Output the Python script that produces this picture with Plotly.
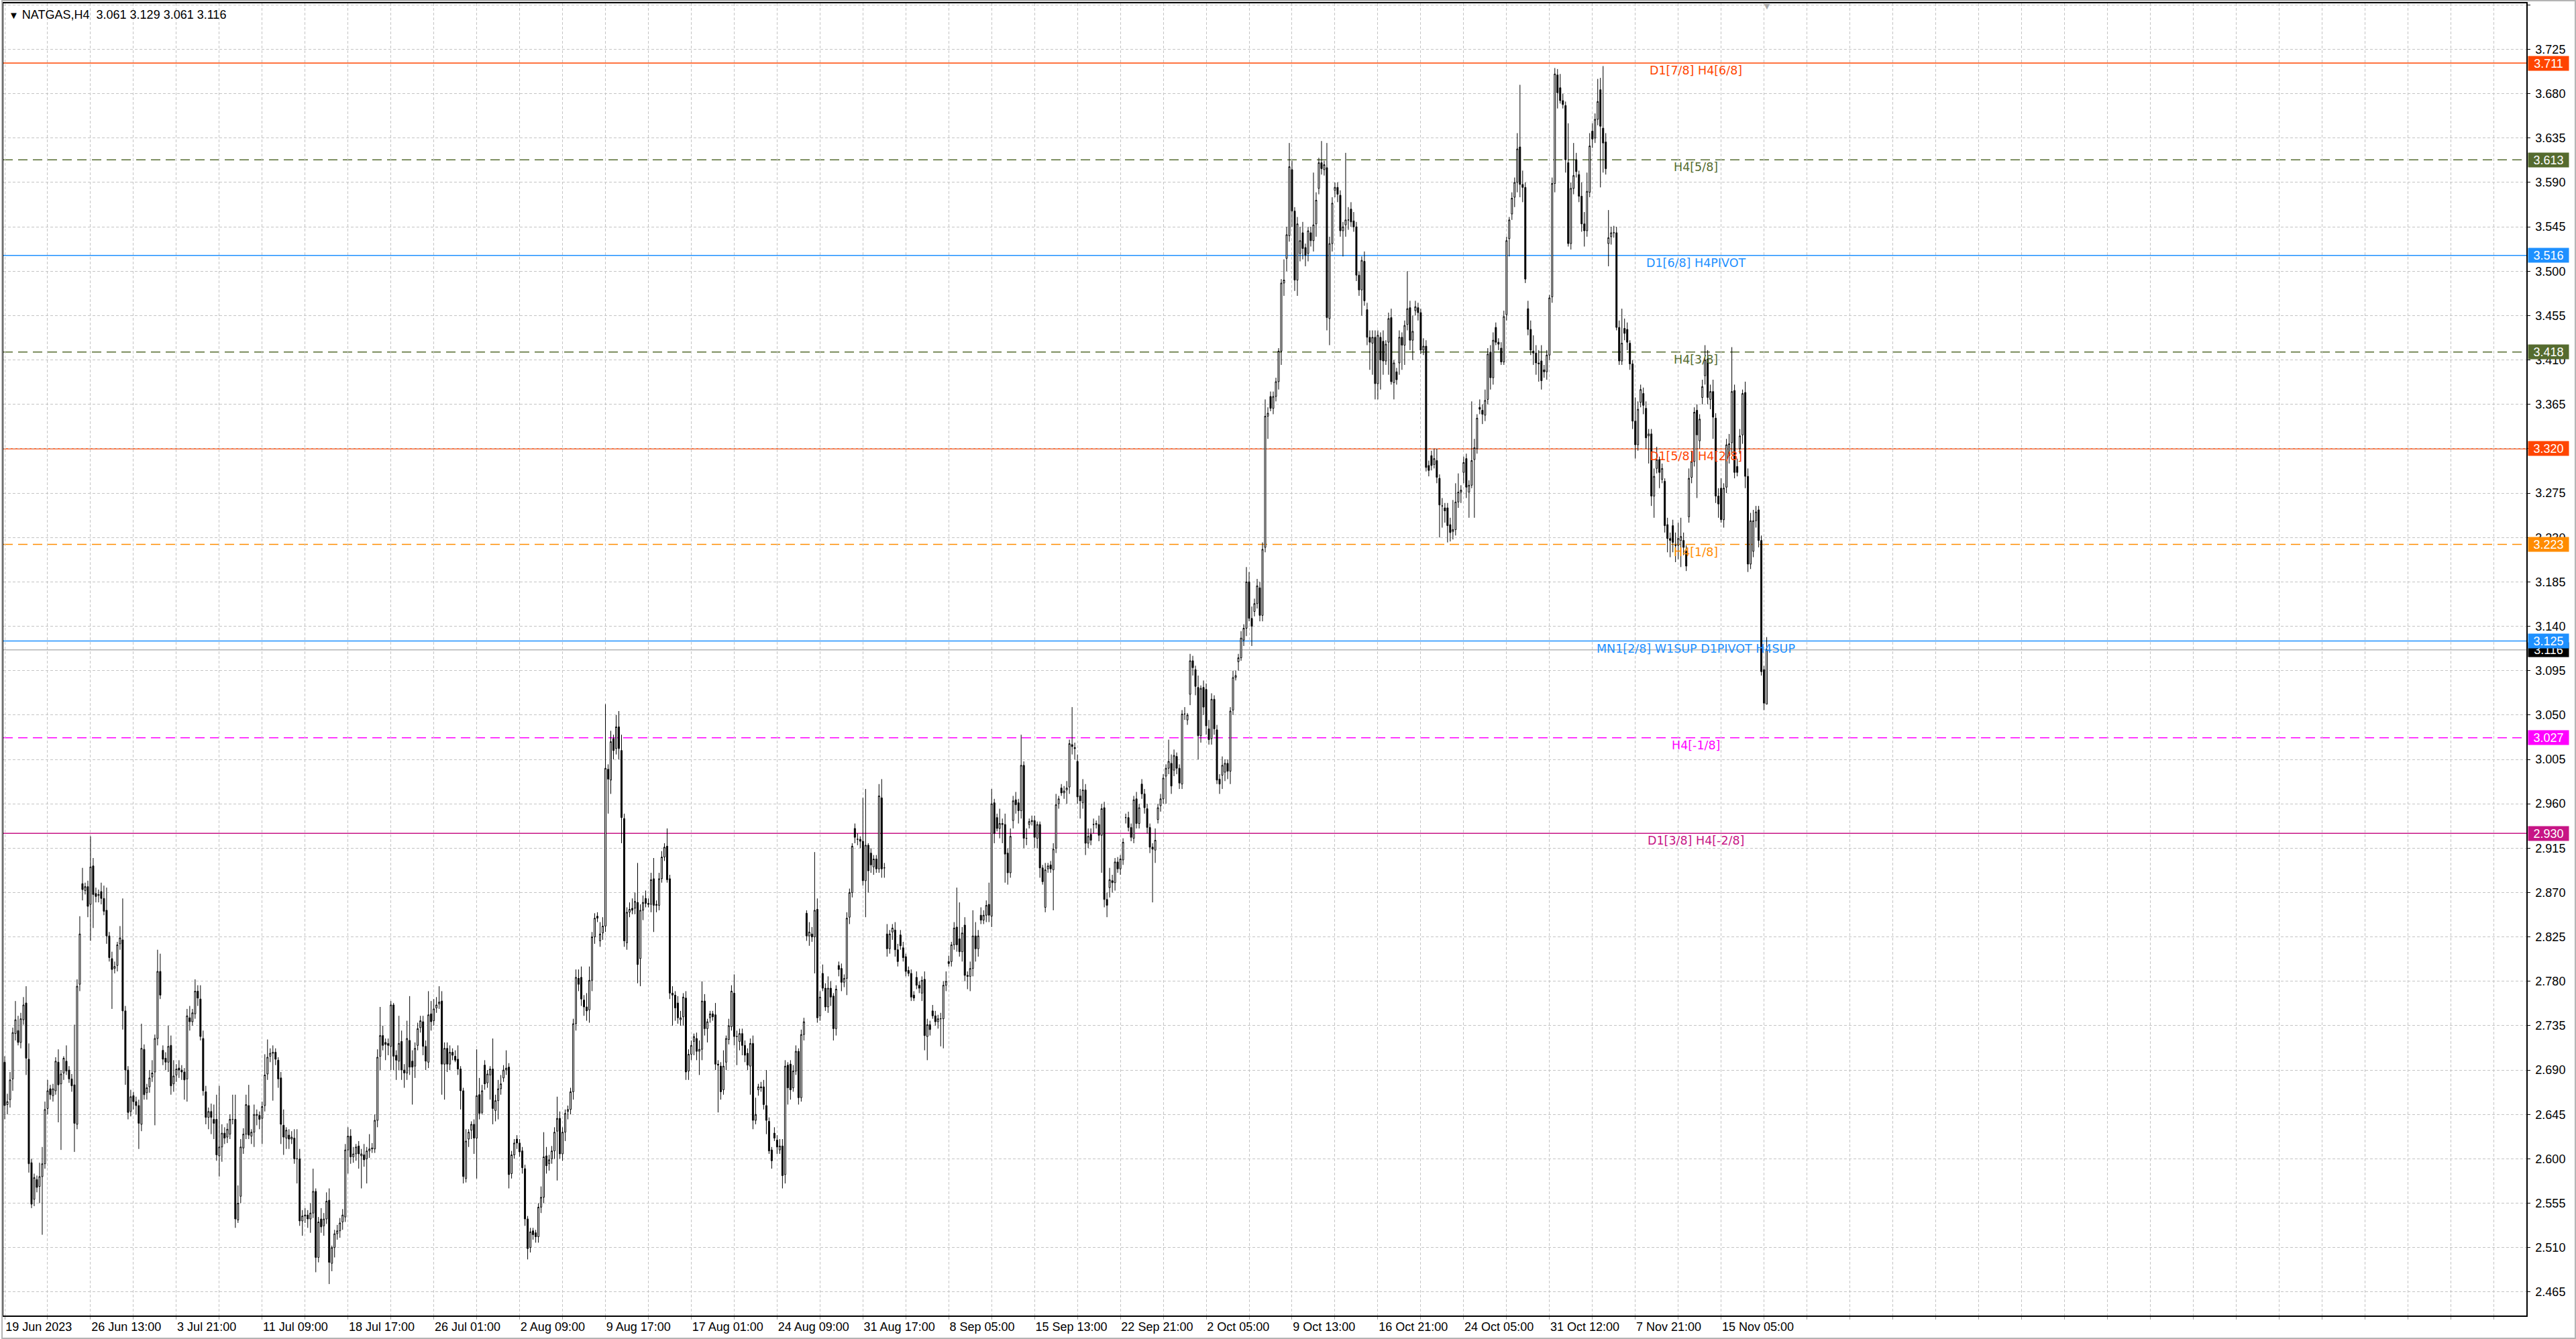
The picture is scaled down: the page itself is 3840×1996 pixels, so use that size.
import plotly.graph_objects as go

symbol_title = "NATGAS,H4"

# ---- H4 bars, prices in thousandths ----
opens = [
2698,2655,2660,2681,2727,2730,2718,2741,2758,2701,
2596,2559,2579,2572,2582,2595,2651,2671,2664,2669,
2698,2676,2687,2699,2690,2681,2675,2635,2777,2879,
2872,2876,2858,2897,2869,2867,2871,2864,2852,2826,
2803,2793,2796,2818,2822,2750,2690,2648,2664,2658,
2654,2635,2711,2667,2673,2683,2688,2722,2790,2710,
2702,2698,2715,2676,2685,2692,2690,2688,2681,2743,
2739,2747,2770,2762,2722,2668,2642,2648,2640,2640,
2603,2612,2626,2622,2625,2640,2640,2538,2562,2611,
2625,2654,2623,2627,2644,2644,2641,2654,2686,2704,
2707,2708,2700,2682,2634,2621,2624,2620,2621,2600,
2600,2537,2542,2543,2539,2545,2567,2500,2539,2532,
2539,2558,2494,2510,2524,2527,2536,2541,2609,2623,
2602,2605,2613,2603,2604,2600,2608,2610,2610,2639,
2704,2725,2718,2717,2714,2756,2705,2699,2719,2690,
2687,2720,2699,2694,2715,2733,2739,2714,2698,2747,
2740,2753,2757,2760,2696,2712,2696,2708,2704,2701,
2691,2669,2580,2620,2629,2635,2621,2665,2647,2695,
2677,2685,2691,2649,2659,2671,2682,2690,2693,2585,
2604,2620,2616,2608,2590,2539,2510,2527,2525,2521,
2551,2561,2603,2595,2600,2608,2628,2641,2605,2627,
2648,2650,2668,2737,2783,2784,2761,2754,2751,2781,
2825,2846,2821,2829,2836,2995,2984,3026,3016,3038,
3014,2945,2819,2850,2854,2854,2860,2803,2852,2864,
2859,2858,2884,2857,2857,2884,2906,2917,2884,2768,
2766,2758,2741,2744,2763,2689,2706,2719,2722,2709,
2711,2760,2732,2743,2747,2746,2696,2694,2670,2698,
2721,2734,2768,2724,2719,2727,2715,2707,2694,2717,
2639,2670,2673,2673,2654,2638,2609,2626,2619,2609,
2613,2584,2695,2696,2672,2689,2709,2662,2726,2849,
2826,2828,2825,2853,2745,2788,2773,2754,2773,2765,
2732,2796,2793,2779,2783,2845,2870,2935,2924,2924,
2922,2882,2918,2910,2896,2904,2894,2966,2895,2828,
2813,2830,2832,2812,2827,2814,2805,2791,2788,2766,
2784,2776,2768,2782,2724,2736,2750,2745,2739,2742,
2742,2776,2800,2800,2817,2835,2823,2810,2837,2786,
2785,2793,2826,2813,2847,2842,2847,2858,2846,2961,
2946,2935,2940,2939,2910,2890,2943,2964,2961,2953,
2999,2925,2939,2943,2943,2925,2939,2895,2855,2894,
2898,2893,2915,2960,2976,2971,2974,2977,3020,3017,
3003,2968,2961,2974,2920,2929,2939,2939,2939,2928,
2956,2863,2875,2882,2880,2901,2894,2903,2946,2946,
2936,2925,2965,2940,2980,2970,2955,2936,2916,2913,
2944,2958,2965,2988,2996,3001,2994,3008,2996,2980,
3051,3045,3071,3105,3096,3078,3029,3078,3076,3036,
3026,3066,3035,2985,2989,2992,3001,2993,3055,3088,
3104,3108,3126,3138,3185,3148,3155,3163,3179,3151,
3220,3353,3373,3361,3373,3388,3419,3488,3513,3536,
3603,3561,3491,3518,3539,3524,3518,3539,3531,3548,
3584,3610,3603,3605,3452,3528,3582,3585,3577,3541,
3547,3552,3563,3551,3545,3496,3481,3510,3461,3433,
3427,3433,3386,3433,3429,3409,3428,3453,3387,3398,
3407,3433,3425,3446,3463,3430,3460,3463,3458,3420,
3424,3303,3313,3304,3308,3290,3262,3260,3260,3243,
3236,3238,3266,3276,3296,3310,3276,3283,3309,3320,
3362,3359,3354,3370,3418,3392,3443,3428,3422,3408,
3456,3533,3558,3575,3590,3626,3588,3585,3462,3441,
3419,3417,3407,3409,3400,3398,3415,3474,3589,3699,
3686,3673,3668,3610,3528,3584,3613,3598,3576,3548,
3541,3580,3642,3635,3654,3684,3645,3631,3528,3535,
3539,3539,3443,3409,3442,3441,3427,3406,3348,3324,
3367,3376,3361,3333,3335,3272,3300,3309,3289,3287,
3243,3229,3242,3222,3222,3227,3227,3216,3251,3291,
3307,3359,3328,3372,3394,3411,3370,3378,3351,3272,
3280,3248,3281,3313,3326,3379,3302,3320,3334,3377,
3292,3203,3216,3247,3258,3227,3096,3061]

highs = [
2704,2666,2688,2733,2760,2745,2748,2764,2775,2717,
2600,2585,2583,2596,2612,2658,2680,2675,2676,2703,
2711,2690,2704,2715,2694,2686,2736,2782,2846,2895,
2880,2882,2927,2905,2875,2873,2880,2877,2875,2830,
2810,2800,2820,2836,2864,2755,2694,2670,2668,2663,
2660,2737,2716,2676,2690,2700,2726,2812,2808,2715,
2708,2735,2725,2700,2696,2700,2695,2692,2752,2755,
2752,2782,2776,2776,2730,2674,2652,2656,2655,2665,
2674,2635,2632,2636,2645,2665,2665,2573,2620,2631,
2665,2675,2630,2655,2650,2648,2658,2706,2721,2712,
2715,2712,2703,2688,2650,2632,2630,2628,2630,2630,
2610,2548,2550,2548,2555,2590,2570,2541,2550,2545,
2566,2570,2512,2528,2533,2540,2549,2615,2632,2630,
2612,2615,2618,2610,2615,2612,2625,2616,2645,2711,
2754,2735,2722,2722,2760,2758,2710,2745,2730,2696,
2740,2765,2710,2718,2738,2745,2745,2720,2770,2760,
2762,2764,2775,2770,2718,2718,2715,2712,2710,2715,
2694,2672,2630,2630,2638,2640,2711,2682,2675,2700,
2690,2694,2722,2665,2680,2685,2695,2710,2697,2608,
2620,2624,2620,2612,2594,2542,2530,2530,2528,2555,
2572,2627,2612,2604,2613,2632,2663,2648,2632,2650,
2654,2672,2742,2792,2792,2795,2766,2768,2795,2830,
2849,2850,2840,2845,3061,3000,3034,3030,3050,3054,
3030,2950,2855,2860,2864,2870,2900,2858,2867,2872,
2864,2890,2905,2862,2890,2912,2920,2935,2888,2775,
2770,2765,2750,2768,2770,2711,2720,2727,2728,2720,
2780,2767,2742,2750,2750,2758,2700,2698,2710,2725,
2742,2776,2787,2730,2732,2732,2720,2712,2722,2725,
2662,2676,2678,2680,2690,2642,2612,2632,2624,2620,
2620,2700,2698,2700,2695,2715,2712,2731,2743,2852,
2840,2835,2911,2864,2770,2797,2778,2785,2780,2768,
2776,2800,2798,2787,2850,2874,2920,2940,2930,2927,
2966,2975,2920,2915,2908,2908,2980,2985,2900,2838,
2832,2838,2840,2818,2832,2820,2808,2795,2792,2770,
2790,2780,2785,2790,2742,2740,2756,2750,2746,2748,
2780,2790,2806,2820,2840,2875,2860,2835,2845,2790,
2800,2852,2840,2832,2855,2852,2862,2880,2975,2965,
2950,2955,2945,2950,2915,2935,2968,2972,2965,3030,
3003,2935,2945,2948,2948,2942,2942,2898,2900,2900,
2902,2920,2970,2968,2980,2978,2983,3025,3058,3022,
3010,2975,2985,2980,2935,2935,2945,2943,2948,2960,
2962,2870,2895,2888,2905,2906,2908,2925,2950,2952,
2940,2968,2972,2960,2985,2975,2960,2940,2920,2935,
2960,2970,2990,3000,3025,3010,3015,3012,3000,3055,
3058,3052,3112,3110,3100,3090,3080,3085,3082,3045,
3072,3070,3040,2990,3008,3005,3005,3058,3095,3095,
3112,3135,3142,3200,3195,3160,3168,3188,3185,3225,
3370,3362,3378,3378,3392,3422,3492,3512,3545,3630,
3612,3565,3555,3545,3550,3528,3545,3545,3600,3580,
3615,3632,3612,3630,3535,3575,3590,3590,3582,3550,
3620,3565,3570,3560,3550,3500,3515,3520,3468,3440,
3440,3440,3440,3438,3440,3430,3458,3462,3410,3402,
3440,3438,3450,3500,3470,3455,3470,3468,3462,3432,
3430,3308,3318,3320,3320,3294,3270,3265,3265,3250,
3268,3285,3295,3283,3312,3315,3288,3368,3330,3355,
3370,3365,3380,3422,3425,3438,3448,3432,3428,3460,
3535,3555,3580,3595,3640,3689,3602,3590,3470,3450,
3435,3425,3420,3425,3405,3420,3476,3595,3706,3705,
3700,3680,3672,3650,3590,3630,3620,3602,3590,3560,
3600,3640,3650,3660,3695,3696,3708,3640,3562,3545,
3546,3545,3450,3462,3452,3448,3430,3410,3372,3368,
3385,3382,3368,3340,3340,3300,3322,3312,3305,3290,
3250,3235,3248,3235,3245,3250,3235,3222,3300,3318,
3362,3365,3355,3390,3425,3420,3385,3390,3356,3280,
3290,3285,3330,3335,3423,3385,3310,3340,3380,3388,
3300,3255,3258,3262,3262,3232,3100,3129]

lows = [
2640,2645,2652,2669,2720,2715,2712,2736,2685,2586,
2550,2552,2566,2555,2523,2590,2645,2660,2658,2665,
2637,2609,2680,2685,2677,2668,2607,2630,2770,2862,
2868,2845,2821,2834,2860,2860,2858,2847,2818,2800,
2752,2788,2790,2812,2731,2675,2640,2643,2650,2645,
2610,2628,2660,2660,2667,2678,2634,2715,2762,2695,
2690,2688,2665,2668,2678,2682,2680,2660,2658,2730,
2735,2742,2755,2720,2664,2635,2630,2625,2620,2598,
2582,2597,2615,2616,2620,2635,2530,2535,2555,2605,
2620,2620,2615,2612,2634,2630,2615,2648,2680,2698,
2659,2695,2672,2615,2604,2610,2610,2615,2595,2575,
2532,2522,2535,2530,2525,2540,2485,2495,2525,2522,
2534,2473,2486,2500,2518,2520,2528,2536,2585,2595,
2596,2598,2590,2570,2592,2575,2601,2606,2606,2632,
2690,2710,2700,2705,2690,2690,2680,2690,2680,2672,
2680,2685,2655,2682,2710,2728,2705,2690,2692,2730,
2735,2748,2752,2665,2660,2688,2690,2700,2698,2685,
2650,2575,2576,2612,2620,2605,2580,2640,2645,2670,
2672,2660,2635,2638,2640,2665,2678,2685,2570,2580,
2600,2610,2602,2585,2532,2498,2505,2518,2515,2515,
2545,2555,2585,2588,2595,2600,2578,2600,2598,2618,
2640,2645,2660,2730,2770,2755,2745,2740,2738,2770,
2818,2840,2815,2822,2830,2950,2970,3005,3010,3005,
2920,2815,2812,2845,2848,2848,2778,2775,2842,2855,
2855,2850,2830,2850,2852,2880,2902,2880,2762,2735,
2740,2737,2735,2735,2680,2680,2700,2705,2700,2685,
2700,2725,2718,2738,2740,2690,2647,2660,2665,2690,
2716,2730,2715,2695,2710,2705,2698,2690,2665,2630,
2635,2664,2668,2650,2625,2605,2590,2618,2605,2605,
2570,2575,2655,2660,2668,2685,2655,2658,2720,2821,
2816,2820,2788,2738,2740,2770,2750,2748,2755,2720,
2725,2785,2770,2774,2766,2838,2865,2920,2918,2915,
2877,2845,2870,2890,2888,2890,2890,2885,2885,2805,
2808,2822,2805,2795,2812,2800,2785,2785,2760,2760,
2772,2768,2760,2710,2700,2725,2742,2735,2732,2714,
2712,2770,2795,2795,2812,2810,2805,2800,2780,2772,
2770,2785,2800,2805,2838,2838,2840,2840,2835,2920,
2932,2925,2920,2880,2878,2885,2935,2950,2940,2945,
2915,2918,2935,2938,2915,2915,2885,2878,2850,2890,
2890,2852,2910,2955,2968,2965,2960,2970,3010,3005,
2960,2945,2955,2908,2915,2918,2930,2935,2922,2890,
2855,2845,2865,2870,2872,2890,2888,2898,2940,2932,
2922,2920,2935,2935,2965,2950,2930,2910,2860,2900,
2940,2952,2960,2960,2990,2970,2988,2990,2975,2975,
3045,3040,3060,3090,3070,3005,3022,3050,3030,3020,
3020,3030,2980,2970,2975,2983,2985,2980,3050,3085,
3095,3105,3120,3130,3145,3120,3150,3158,3145,3145,
3215,3330,3358,3355,3368,3380,3405,3475,3500,3530,
3545,3480,3475,3510,3512,3505,3510,3525,3520,3535,
3578,3598,3597,3440,3425,3520,3575,3570,3535,3515,
3535,3542,3545,3540,3490,3475,3455,3465,3425,3400,
3395,3370,3370,3380,3395,3405,3395,3385,3370,3385,
3395,3400,3405,3440,3420,3410,3455,3450,3416,3415,
3297,3292,3298,3300,3285,3230,3240,3245,3225,3226,
3228,3232,3260,3265,3285,3270,3250,3280,3250,3315,
3355,3345,3348,3365,3380,3385,3425,3420,3405,3405,
3450,3515,3552,3565,3580,3575,3570,3488,3435,3415,
3405,3395,3388,3380,3392,3390,3410,3468,3580,3665,
3670,3665,3600,3525,3522,3578,3595,3570,3540,3525,
3535,3575,3625,3630,3648,3585,3600,3598,3505,3527,
3534,3440,3405,3405,3430,3420,3400,3340,3310,3318,
3362,3355,3320,3305,3262,3250,3295,3280,3285,3235,
3215,3210,3215,3205,3208,3200,3212,3196,3245,3285,
3302,3270,3320,3365,3385,3365,3360,3330,3265,3250,
3245,3240,3275,3305,3315,3290,3292,3315,3325,3280,
3195,3198,3210,3240,3220,3090,3055,3061]

closes = [
2654,2658,2680,2728,2741,2718,2742,2756,2702,2595,
2554,2581,2571,2582,2595,2650,2669,2665,2671,2699,
2675,2686,2702,2689,2681,2674,2636,2775,2828,2873,
2876,2856,2896,2868,2866,2868,2864,2851,2826,2804,
2792,2795,2817,2824,2750,2690,2647,2663,2658,2654,
2636,2712,2665,2672,2682,2687,2722,2790,2766,2701,
2698,2714,2674,2684,2691,2690,2688,2680,2745,2739,
2748,2770,2763,2724,2669,2642,2648,2642,2636,2604,
2612,2626,2621,2630,2640,2640,2539,2555,2612,2625,
2655,2624,2627,2645,2645,2640,2653,2685,2703,2707,
2708,2701,2681,2635,2622,2629,2620,2622,2600,2600,
2537,2542,2543,2539,2545,2567,2500,2536,2531,2539,
2557,2495,2510,2524,2527,2535,2543,2609,2623,2602,
2605,2612,2605,2605,2599,2608,2610,2611,2639,2703,
2725,2715,2716,2715,2756,2704,2700,2717,2690,2687,
2722,2693,2693,2712,2732,2740,2714,2699,2746,2739,
2752,2756,2759,2696,2712,2696,2708,2705,2700,2691,
2669,2582,2618,2627,2635,2621,2664,2646,2669,2676,
2686,2691,2651,2659,2671,2676,2690,2692,2584,2604,
2616,2616,2607,2591,2539,2509,2526,2523,2521,2551,
2561,2602,2593,2599,2608,2627,2641,2605,2627,2646,
2650,2668,2737,2784,2777,2762,2754,2750,2781,2825,
2844,2844,2828,2836,2996,2985,3023,3014,3038,3016,
2946,2821,2850,2853,2852,2861,2797,2852,2860,2859,
2858,2883,2857,2858,2884,2906,2916,2883,2768,2766,
2753,2743,2743,2764,2688,2706,2715,2724,2709,2711,
2760,2732,2739,2747,2744,2696,2695,2668,2694,2722,
2735,2770,2724,2724,2727,2715,2705,2695,2717,2639,
2645,2673,2672,2655,2639,2608,2598,2621,2612,2613,
2583,2694,2672,2670,2689,2709,2662,2726,2739,2826,
2830,2825,2852,2743,2764,2773,2754,2773,2764,2732,
2772,2792,2779,2783,2844,2870,2917,2926,2924,2922,
2882,2918,2892,2898,2904,2894,2968,2894,2895,2813,
2828,2834,2812,2800,2816,2804,2790,2788,2764,2763,
2776,2773,2781,2725,2736,2731,2745,2739,2742,2742,
2776,2780,2798,2817,2834,2817,2810,2829,2786,2785,
2793,2826,2813,2826,2842,2847,2857,2847,2960,2930,
2935,2940,2939,2909,2890,2927,2963,2959,2953,2999,
2925,2925,2942,2942,2926,2939,2895,2881,2893,2897,
2894,2914,2959,2965,2971,2973,2976,3021,3018,3016,
2967,2963,2974,2920,2927,2923,2939,2940,2928,2955,
2863,2857,2883,2880,2901,2894,2904,2921,2946,2936,
2926,2964,2940,2956,2970,2956,2936,2916,2914,2923,
2956,2965,2986,2996,3003,2978,3009,2996,2981,3051,
3051,3050,3105,3098,3079,3029,3077,3058,3039,3025,
3066,3036,2984,2980,2999,3001,2993,3054,3088,3090,
3108,3128,3138,3185,3148,3140,3163,3181,3151,3218,
3353,3356,3361,3373,3388,3419,3488,3491,3537,3606,
3561,3491,3548,3531,3523,3516,3541,3531,3547,3572,
3610,3604,3608,3453,3528,3569,3585,3578,3541,3545,
3552,3552,3550,3545,3496,3481,3511,3470,3433,3428,
3433,3386,3435,3410,3409,3426,3452,3388,3407,3390,
3433,3425,3445,3462,3430,3439,3464,3458,3420,3424,
3301,3298,3303,3310,3291,3263,3262,3257,3242,3235,
3238,3266,3276,3278,3306,3281,3283,3308,3321,3351,
3360,3355,3369,3416,3392,3430,3428,3426,3408,3454,
3531,3552,3574,3590,3624,3588,3585,3492,3441,3420,
3417,3407,3406,3389,3398,3415,3473,3589,3700,3681,
3673,3669,3613,3528,3584,3597,3601,3576,3548,3541,
3581,3627,3634,3654,3672,3647,3630,3604,3534,3539,
3539,3443,3409,3427,3437,3428,3406,3348,3324,3360,
3380,3364,3331,3335,3272,3292,3309,3296,3300,3242,
3229,3227,3225,3222,3229,3231,3220,3201,3290,3307,
3357,3334,3350,3383,3410,3372,3378,3352,3272,3264,
3248,3280,3324,3325,3378,3296,3296,3333,3376,3292,
3203,3247,3247,3256,3227,3094,3062,3116]

# ---- axis labels ----
x_tick_labels = ["19 Jun 2023", "26 Jun 13:00", "3 Jul 21:00", "11 Jul 09:00",
                 "18 Jul 17:00", "26 Jul 01:00", "2 Aug 09:00", "9 Aug 17:00",
                 "17 Aug 01:00", "24 Aug 09:00", "31 Aug 17:00", "8 Sep 05:00",
                 "15 Sep 13:00", "22 Sep 21:00", "2 Oct 05:00", "9 Oct 13:00",
                 "16 Oct 21:00", "24 Oct 05:00", "31 Oct 12:00", "7 Nov 21:00",
                 "15 Nov 05:00"]
y_tick_values = [2.465, 2.510, 2.555, 2.600, 2.645, 2.690, 2.735, 2.780, 2.825,
                 2.870, 2.915, 2.960, 3.005, 3.050, 3.095, 3.140, 3.185, 3.230,
                 3.275, 3.320, 3.365, 3.410, 3.455, 3.500, 3.545, 3.590, 3.635,
                 3.680, 3.725, 3.770]

# ---- Murrey-math style levels ----
level_values = [3.711, 3.613, 3.516, 3.418, 3.320, 3.223, 3.125, 3.027, 2.930]
level_names = ["D1[7/8] H4[6/8]", "H4[5/8]", "D1[6/8] H4PIVOT", "H4[3/8]",
               "D1[5/8] H4[2/8]", "H4[1/8]", "MN1[2/8] W1SUP D1PIVOT H4SUP",
               "H4[-1/8]", "D1[3/8] H4[-2/8]"]
level_colors = ["#FF4500", "#556B2F", "#1E90FF", "#556B2F", "#FF4500",
                "#FF8C00", "#1E90FF", "#FF00FF", "#C71585"]
level_dashed = [False, True, False, True, False, True, False, True, False]

n = len(closes)
if not (len(opens) == len(highs) == len(lows) == n):
    raise SystemExit(f"length mismatch {len(opens)} {len(highs)} {len(lows)} {n}")

o = [v / 1000 for v in opens]
h = [v / 1000 for v in highs]
l = [v / 1000 for v in lows]
c = [v / 1000 for v in closes]
xs = list(range(n))

W, H = 3840, 1996
ML, MR, MT, MB = 3, 74, 5, 35
bars_per_label = 32
bars_per_grid = 16
x_max = 940.25

fig = go.Figure()
fig.add_trace(go.Candlestick(
    x=xs, open=o, high=h, low=l, close=c,
    increasing=dict(line=dict(color="black", width=1), fillcolor="white"),
    decreasing=dict(line=dict(color="black", width=1), fillcolor="black"),
    whiskerwidth=0, showlegend=False, hoverinfo="skip"))

grid_vals = list(range(0, int(x_max) + 1, bars_per_grid))
grid_text = []
for v in grid_vals:
    k = v // bars_per_label
    if v % bars_per_label == 0 and k < len(x_tick_labels):
        grid_text.append(x_tick_labels[k])
    else:
        grid_text.append("")

shapes = []
annotations = []
label_font = "DejaVu Sans, Verdana, sans-serif"
axis_font = "Liberation Sans, Arial, sans-serif"

for val, name, col, dashed in zip(level_values, level_names, level_colors, level_dashed):
    shapes.append(dict(type="line", xref="paper", x0=0, x1=1, yref="y", y0=val, y1=val,
                       line=dict(color=col, width=1.5, dash="14px,8px" if dashed else "solid"),
                       layer="below"))
    annotations.append(dict(x=630.5, y=val, xref="x", yref="y", text=name, showarrow=False,
                            xanchor="center", yanchor="middle", yshift=-11,
                            font=dict(family=label_font, size=17.5, color=col)))

bid = c[-1]
shapes.append(dict(type="line", xref="paper", x0=0, x1=1, yref="y", y0=bid, y1=bid,
                   line=dict(color="#909090", width=1), layer="below"))

# price boxes on the right axis
annotations.append(dict(x=1, xref="paper", y=bid, yref="y", xanchor="left", yanchor="middle",
                        xshift=2, text=f"{bid:.3f}", showarrow=False, bgcolor="black",
                        width=58, height=19, borderpad=1, align="center",
                        font=dict(family=axis_font, size=18, color="white")))
for val, col in zip(level_values, level_colors):
    annotations.append(dict(x=1, xref="paper", y=val, yref="y", xanchor="left", yanchor="middle",
                            xshift=2, text=f"{val:.3f}", showarrow=False, bgcolor=col,
                            width=58, height=19, borderpad=1, align="center",
                            font=dict(family=axis_font, size=18, color="white")))

# header (symbol + last bar OHLC)
sp = "\u00a0"
header = (f"<span style='font-size:15px'>\u25BC</span>{sp}{symbol_title}{sp}{sp}"
          f"{o[-1]:.3f} {h[-1]:.3f} {l[-1]:.3f} {c[-1]:.3f}")
annotations.append(dict(x=0, xref="paper", y=1, yref="paper", xanchor="left", yanchor="top",
                        xshift=6, yshift=-5, text=header, showarrow=False,
                        font=dict(family=axis_font, size=18, color="black")))
# chart shift marker
annotations.append(dict(x=n - 1, xref="x", y=1, yref="paper", xanchor="center", yanchor="top",
                        yshift=6, text="\u25BC", showarrow=False,
                        font=dict(family=axis_font, size=14, color="#A8A8A8")))

# outer window frame
pw, ph = W - ML - MR, H - MT - MB
shapes.append(dict(type="rect", xref="paper", yref="paper",
                   x0=(-ML + 1) / pw, x1=(pw + MR - 1) / pw,
                   y0=(-MB + 1) / ph, y1=(ph + MT - 1) / ph,
                   line=dict(color="#B4B4B4", width=2), layer="above"))

fig.update_layout(
    width=W, height=H,
    margin=dict(l=ML, r=MR, t=MT, b=MB, pad=0),
    paper_bgcolor="white", plot_bgcolor="white",
    hovermode=False, showlegend=False,
    shapes=shapes, annotations=annotations,
    xaxis=dict(range=[-0.5, x_max], tickmode="array", tickvals=grid_vals, ticktext=grid_text,
               showgrid=True, gridcolor="#C4C4C4", griddash="4px,3px", gridwidth=1,
               ticks="outside", ticklen=4, tickcolor="#A0A0A0",
               ticklabelposition="outside right",
               tickfont=dict(family=axis_font, size=18, color="black"),
               showline=True, linecolor="black", linewidth=1.5, mirror=True,
               zeroline=False, rangeslider=dict(visible=False), fixedrange=True),
    yaxis=dict(range=[2.4411, 3.7716], side="right", tickmode="array",
               tickvals=y_tick_values, ticktext=[f"{v:.3f}" for v in y_tick_values],
               showgrid=True, gridcolor="#C4C4C4", griddash="4px,3px", gridwidth=1,
               ticks="outside", ticklen=4, tickcolor="black", ticklabelstandoff=4,
               tickfont=dict(family=axis_font, size=18, color="black"),
               showline=True, linecolor="black", linewidth=1.5, mirror=True,
               zeroline=False, fixedrange=True),
)

fig.write_html("out.html", config={"displayModeBar": False},
               post_script="document.body.style.margin='0';")
